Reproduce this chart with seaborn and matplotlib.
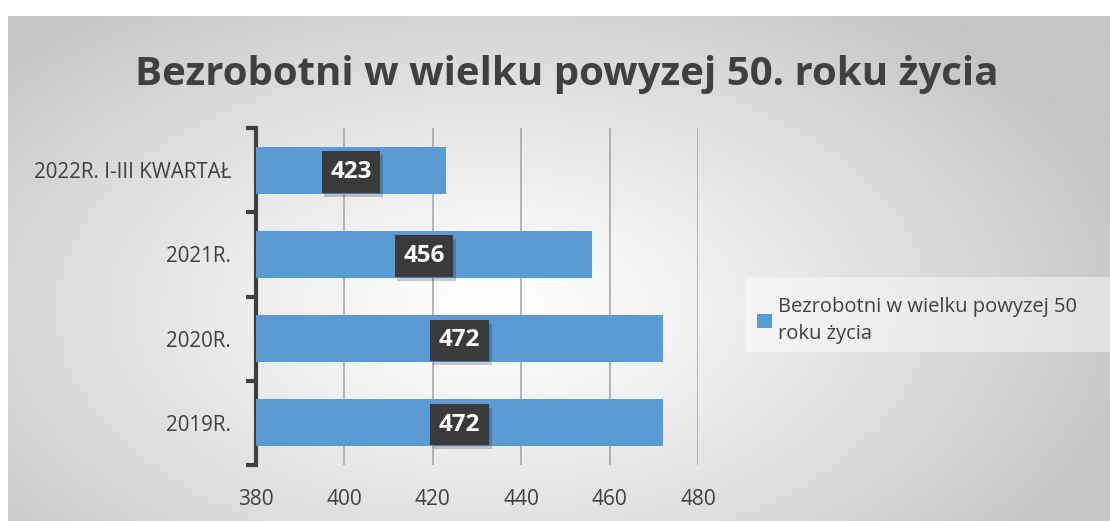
import numpy as np
import pandas as pd
import seaborn as sns
import matplotlib.pyplot as plt
import matplotlib.patheffects as pe
from matplotlib.patches import Patch, Rectangle

categories = ["2022R. I-III KWARTAŁ", "2021R.", "2020R.", "2019R."]
values = [423, 456, 472, 472]
x_ticks = [380, 400, 420, 440, 460, 480]
title = "Bezrobotni w wielku powyzej 50. roku życia"
legend_label = "Bezrobotni w wielku powyzej 50\nroku życia"

df = pd.DataFrame({"okres": categories, "liczba": values})

sns.set_theme(style="white")
plt.rcParams["font.family"] = ["Open Sans", "DejaVu Sans"]

W, H = 1110, 521
fig = plt.figure(figsize=(W / 100, H / 100), dpi=100)
fig.patch.set_facecolor("white")

# radial grey background of the chart area
bg = fig.add_axes([8 / W, 0, 1 - 8 / W, 1 - 16 / H], zorder=-10)
yy, xx = np.mgrid[0:1:300j, 0:1:600j]
d = np.sqrt(((xx - 0.44) / 0.6) ** 2 + ((yy - 0.58) / 0.75) ** 2)
shade = 255 - 58 * np.clip(d, 0, 1) ** 1.2
img = np.dstack([shade, shade, shade]) / 255.0
bg.imshow(img, aspect="auto", extent=[0, 1, 0, 1], origin="upper")
bg.set_axis_off()

ax = fig.add_axes([256 / W, 1 - 465 / H, 442 / W, 337 / H])
ax.set_facecolor("none")

sns.barplot(data=df, x="liczba", y="okres", orient="h", color="#5B9BD5",
            width=0.56, saturation=1, linewidth=0, ax=ax, zorder=3)

ax.set_xlim(380, 480)
ax.set_xticks(x_ticks)
ax.set_xlabel("")
ax.set_ylabel("")
ax.grid(axis="x", color="#a8a8a8", linewidth=1.2, zorder=0)
ax.grid(axis="y", visible=False)
for s in ["top", "right", "bottom"]:
    ax.spines[s].set_visible(False)
ax.spines["left"].set_color("#404040")
ax.spines["left"].set_linewidth(3)

ax.tick_params(axis="x", length=0, pad=17, labelsize=15, labelcolor="#404040")
ax.tick_params(axis="y", which="major", length=0, pad=18, labelsize=14.8, labelcolor="#404040")
ax.set_yticks(np.arange(-0.5, len(categories), 1.0), minor=True)
ax.tick_params(axis="y", which="minor", length=7, width=3, color="#404040", left=True)
ax.set_ylim(len(categories) - 0.5, -0.5)

# data labels in dark boxes
for i, v in enumerate(values):
    t = ax.text((380 + v) / 2, i + 0.02, str(v), ha="center", va="center",
                fontsize=17.5, fontweight="bold", color="white", zorder=5,
                bbox=dict(boxstyle="square,pad=0.36", facecolor="#3a3a3a", edgecolor="none"))
    t.get_bbox_patch().set_path_effects([
        pe.SimplePatchShadow(offset=(2, -3), alpha=0.2, shadow_rgbFace="black"),
        pe.Normal()])

fig.text(567 / W, 1 - 75 / H, title, ha="center", va="center",
         fontsize=29, fontweight="bold", color="#404040")

# legend with a light panel reaching the right edge
fig.patches.append(Rectangle((746 / W, 1 - 352 / H), (W - 746) / W, 75 / H,
                             transform=fig.transFigure, facecolor="white",
                             alpha=0.45, edgecolor="none", zorder=-5))
handle = Patch(facecolor="#5B9BD5", edgecolor="none")
leg = fig.legend([handle], [legend_label], loc="upper left",
                 bbox_to_anchor=(741 / W, 1 - 281 / H), frameon=False,
                 fontsize=14.5, handlelength=0.75, handleheight=0.75, handletextpad=0.3,
                 borderpad=0.3, labelcolor="#404040")
for txt in leg.get_texts():
    txt.set_linespacing(1.45)

fig.savefig("out.png", dpi=100)
